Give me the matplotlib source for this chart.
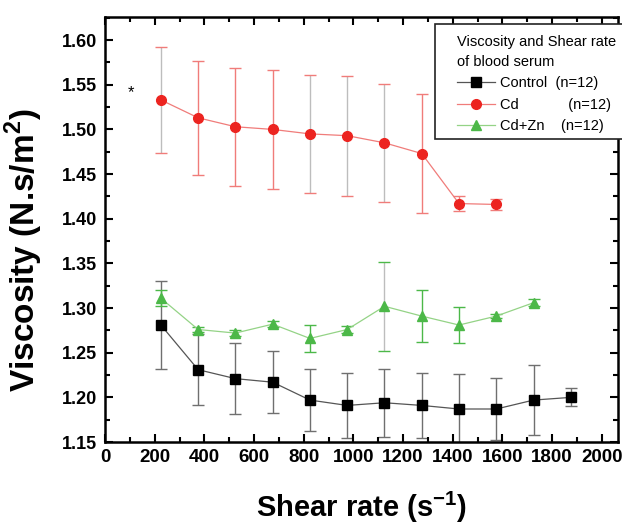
import matplotlib
matplotlib.use("Agg")
import matplotlib.pyplot as plt
from matplotlib.ticker import MultipleLocator
from matplotlib.patches import Rectangle

plt.rcParams['font.family'] = ['Liberation Sans', 'DejaVu Sans']
plt.rcParams['mathtext.fontset'] = 'custom'
plt.rcParams['mathtext.rm'] = 'Liberation Sans'
plt.rcParams['mathtext.bf'] = 'Liberation Sans:bold'

# shear rate (s^-1)
shear = [225, 375, 525, 675, 825, 975, 1125, 1275, 1425, 1575, 1725, 1875]

control = [1.281, 1.231, 1.221, 1.217, 1.197, 1.191, 1.194, 1.191, 1.187, 1.187, 1.197, 1.200]
control_err = [0.049, 0.040, 0.040, 0.035, 0.035, 0.036, 0.038, 0.036, 0.039, 0.035, 0.039, 0.010]

cd = [1.533, 1.513, 1.503, 1.500, 1.495, 1.493, 1.485, 1.473, 1.417, 1.416]
cd_err = [0.059, 0.064, 0.066, 0.067, 0.066, 0.067, 0.066, 0.067, 0.008, 0.006]

cdzn = [1.311, 1.276, 1.272, 1.282, 1.266, 1.276, 1.302, 1.291, 1.281, 1.291, 1.306]
cdzn_err = [0.009, 0.003, 0.003, 0.003, 0.015, 0.004, 0.050, 0.029, 0.020, 0.002, 0.004]

labels = ['Control  (n=12)', 'Cd            (n=12)', 'Cd+Zn    (n=12)']

fig = plt.figure(figsize=(6.22, 5.25), dpi=100)
ax = fig.add_axes([0.1688, 0.158, 0.8248, 0.809])

LGRAY = '#bdbdbd'
RED = '#ec2420'
PINK = '#f07c7a'
GREEN = '#4cb848'
LGREEN = '#94d386'

# control
ax.errorbar(shear, control, yerr=control_err, fmt='none', ecolor='#6f6f6f',
            elinewidth=1, capsize=4, capthick=1, zorder=1)
ax.plot(shear, control, color='#555555', lw=0.9, marker='s', ms=6.5,
        mfc='black', mec='black', label=labels[0], zorder=3)

# Cd
n = len(cd)
eb = ax.errorbar(shear[:n], cd, yerr=cd_err, fmt='none', ecolor=PINK,
                 elinewidth=1, capsize=4, capthick=1, zorder=1)
eb[2][0].set_color([LGRAY, PINK, PINK, PINK, LGRAY, LGRAY, LGRAY, PINK, PINK, PINK])
ax.plot(shear[:n], cd, color=PINK, lw=0.9, marker='o', ms=7,
        mfc=RED, mec=RED, label=labels[1], zorder=3)

# Cd+Zn
n = len(cdzn)
eb = ax.errorbar(shear[:n], cdzn, yerr=cdzn_err, fmt='none', ecolor=GREEN,
                 elinewidth=1, capsize=4, capthick=1, zorder=1)
eb[2][0].set_color([GREEN] * 6 + [LGRAY] + [GREEN] * 4)
ax.plot(shear[:n], cdzn, color=LGREEN, lw=0.9, marker='^', ms=7.5,
        mfc=GREEN, mec=GREEN, label=labels[2], zorder=3)

ax.text(103, 1.5415, '*', fontsize=12, ha='center', va='center')

ax.xaxis.set_major_locator(MultipleLocator(200))
ax.xaxis.set_minor_locator(MultipleLocator(100))
ax.yaxis.set_major_locator(MultipleLocator(0.05))
ax.yaxis.set_minor_locator(MultipleLocator(0.025))
ax.tick_params(which='both', direction='in', top=True, right=True, width=1.5)
ax.tick_params(which='major', length=6)
ax.tick_params(which='minor', length=3.5)
ax.tick_params(axis='y', labelsize=13, pad=6)
ax.tick_params(axis='x', labelsize=13.5, pad=5)
ax.set_xlim(0, 2065)
ax.set_ylim(1.15, 1.6255)
ax.yaxis.set_major_formatter('{x:.2f}')
for lab in ax.get_xticklabels() + ax.get_yticklabels():
    lab.set_fontweight('bold')
for s in ax.spines.values():
    s.set_linewidth(1.8)

ax.set_xlabel('Shear rate (s$^{\\mathbf{-1}}$)', fontsize=21, fontweight='bold', labelpad=17)
ax.set_ylabel('Viscosity (N.s/m$^{\\mathbf{2}}$)', fontsize=24, fontweight='bold')
ax.yaxis.set_label_coords(-0.117, 0.452)

# legend box (runs past the right edge, as in the original)
fig.add_artist(Rectangle((435 / 622, 1 - 139 / 525), 0.4, (139 - 24) / 525,
                         transform=fig.transFigure, facecolor='white',
                         edgecolor='#222222', lw=1.2, zorder=4))
handles, labs = ax.get_legend_handles_labels()
leg = fig.legend(handles, labs, title='Viscosity and Shear rate\nof blood serum',
                 loc='upper left', bbox_to_anchor=(457 / 622, 1 - 35 / 525),
                 fontsize=10.5, title_fontsize=10.5, frameon=False, borderpad=0,
                 borderaxespad=0, handlelength=2.6, handletextpad=0.35,
                 labelspacing=0.5, alignment='left')
leg.get_title().set_linespacing(1.55)
leg.set_zorder(5)

fig.savefig('out.png', dpi=100)
